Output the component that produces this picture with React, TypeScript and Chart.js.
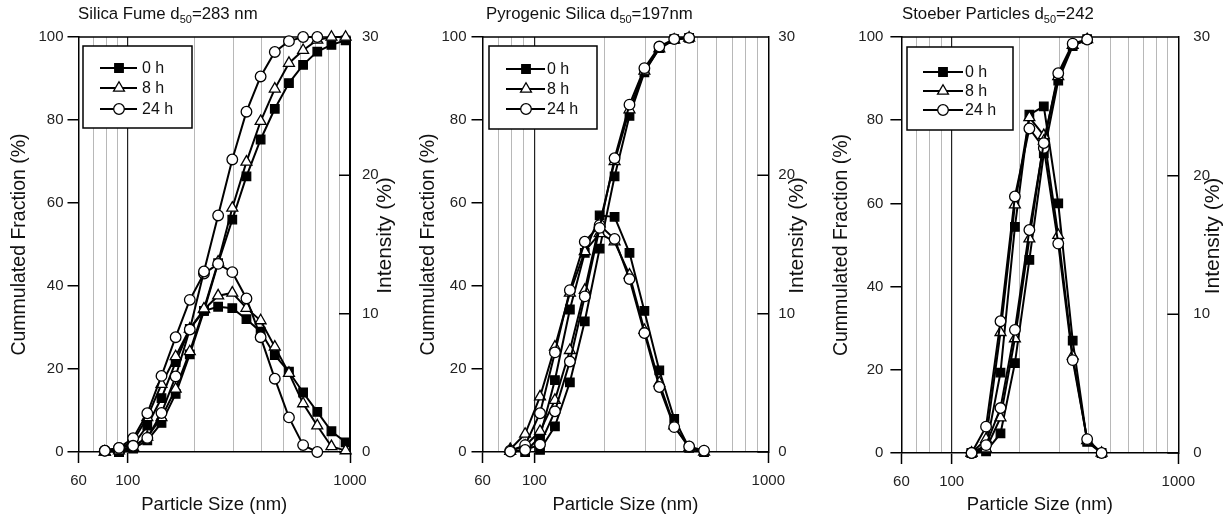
import React, { useEffect, useRef } from "react";
import { Chart, registerables } from "chart.js";

Chart.register(...registerables);

const FONT = "'Liberation Sans', Arial, Helvetica, sans-serif";

// Malvern size classes (nm) shared by all series
const SIZE_BINS = [68.06, 78.82, 91.28, 105.7, 122.4, 141.8, 164.2, 190.1, 220.2, 255.0, 295.3, 342.0, 396.1, 458.7, 531.2, 615.1, 712.4, 825.0, 955.4];

// Silica Fume (left axis: cumulated %, right axis: intensity %)
const FUME_CUM_0H = [null, null, 0, 0.8, 2.8, 7.0, 14.0, 23.5, 34.0, 45.5, 56.0, 66.4, 75.3, 82.7, 88.9, 93.3, 96.5, 98.1, 99.2];
const FUME_INT_0H = [null, null, 0, 0.5, 1.9, 3.9, 6.5, 8.9, 10.2, 10.5, 10.4, 9.6, 8.7, 7.0, 5.8, 4.3, 2.9, 1.5, 0.7];
const FUME_CUM_8H = [null, 0, 0.3, 1.1, 3.6, 8.3, 15.2, 24.2, 34.5, 45.8, 58.8, 69.9, 79.7, 87.5, 93.7, 96.8, 99.3, 100, 100];
const FUME_INT_8H = [null, 0, 0.2, 0.8, 2.5, 4.9, 6.9, 8.9, 10.3, 11.3, 11.5, 10.4, 9.5, 7.6, 5.7, 3.5, 1.9, 0.4, 0.1];
const FUME_CUM_24H = [null, 0.3, 1.0, 1.5, 3.4, 9.4, 18.2, 29.5, 43.5, 57.0, 70.5, 82.0, 90.5, 96.4, 99.0, 100, 100, null, null];
const FUME_INT_24H = [null, 0.1, 0.3, 1.0, 2.8, 5.5, 8.3, 11.0, 12.9, 13.6, 13.0, 11.1, 8.3, 5.3, 2.5, 0.5, 0, null, null];

// Pyrogenic Silica
const PYRO_CUM_0H = [null, null, null, 0.5, 6.2, 16.8, 31.5, 49.0, 66.4, 81.0, 91.5, 97.3, 99.5, 99.8, null, null, null, null, null];
const PYRO_INT_0H = [null, null, 0, 1.1, 5.2, 10.3, 14.4, 17.1, 17.0, 14.4, 10.2, 5.9, 2.4, 0.3, 0, null, null, null, null];
const PYRO_CUM_8H = [null, 0.2, 1.5, 5.0, 12.5, 24.5, 39.0, 55.0, 70.0, 82.5, 91.8, 97.2, 99.3, 99.8, null, null, null, null, null];
const PYRO_INT_8H = [null, 0.2, 1.3, 4.0, 7.6, 11.5, 14.5, 15.8, 15.2, 12.8, 8.8, 5.0, 1.9, 0.3, 0, null, null, null, null];
const PYRO_CUM_24H = [null, 0.1, 0.5, 1.8, 9.8, 21.8, 37.5, 54.0, 70.8, 83.7, 92.5, 97.7, 99.5, 99.8, null, null, null, null, null];
const PYRO_INT_24H = [null, 0.1, 0.5, 2.8, 7.2, 11.7, 15.2, 16.4, 15.4, 12.5, 8.6, 4.7, 1.8, 0.4, 0.1, null, null, null, null];

// Stoeber Particles
const STOE_CUM_0H = [null, null, null, null, 0, 0.4, 4.7, 21.6, 46.4, 72.0, 89.5, 97.8, 99.5, null, null, null, null, null, null];
const STOE_INT_0H = [null, null, null, null, 0, 0.4, 5.8, 16.3, 24.4, 25.0, 18.0, 8.1, 0.8, 0, null, null, null, null, null];
const STOE_CUM_8H = [null, null, null, null, 0, 1.0, 8.5, 27.5, 51.5, 75.0, 90.5, 98.0, 99.4, null, null, null, null, null, null];
const STOE_INT_8H = [null, null, null, null, 0, 1.0, 8.7, 17.9, 24.2, 22.9, 15.7, 7.0, 0.9, 0, null, null, null, null, null];
const STOE_CUM_24H = [null, null, null, null, 0, 1.9, 10.8, 29.6, 53.6, 74.5, 91.3, 98.4, 99.4, null, null, null, null, null, null];
const STOE_INT_24H = [null, null, null, null, 0, 1.9, 9.5, 18.5, 23.4, 22.0, 15.1, 6.7, 1.0, 0, null, null, null, null, null];

const X_TICK_VALUES = [60, 70, 80, 90, 100, 200, 300, 400, 500, 600, 700, 800, 900, 1000];
const X_TICK_LABELS = [60, 100, 1000];
const CUM_TICKS = [0, 20, 40, 60, 80, 100];
const INT_TICKS = [0, 10, 20, 30];
const SERIES_LABELS = ["0 h", "8 h", "24 h"];
const X_TITLE = "Particle Size (nm)";
const Y_LEFT_TITLE = "Cummulated Fraction (%)";
const Y_RIGHT_TITLE = "Intensity (%)";

const MARKERS = [
  { style: "rect", r: 6, bg: "#000" },
  { style: "triangle", r: 6.3, bg: "#fff" },
  { style: "circle", r: 5.3, bg: "#fff" },
];

const PANELS = [
  {
    title: ["Silica Fume d", "50", "=283 nm"],
    cum: [FUME_CUM_0H, FUME_CUM_8H, FUME_CUM_24H],
    int: [FUME_INT_0H, FUME_INT_8H, FUME_INT_24H],
    canvasX: 0, canvasW: 410, plotL: 78.5, plotR: 350, plotT: 37, plotB: 452,
    leftTitleX: 20, rightTitleX: 385, leftPad: 4, rightPad: 12, titleX: 78,
    legend: { x: 83, y: 46, w: 109, h: 82, rows: [68, 88, 109], l1: 100, l2: 137, m: 119, t: 142 },
  },
  {
    title: ["Pyrogenic Silica d", "50", "=197nm"],
    cum: [PYRO_CUM_0H, PYRO_CUM_8H, PYRO_CUM_24H],
    int: [PYRO_INT_0H, PYRO_INT_8H, PYRO_INT_24H],
    canvasX: 410, canvasW: 410, plotL: 482.5, plotR: 768.3, plotT: 37, plotB: 452,
    leftTitleX: 429, rightTitleX: 797, leftPad: 5, rightPad: 10, titleX: 486,
    legend: { x: 489, y: 46, w: 108, h: 83, rows: [69, 89, 109], l1: 506, l2: 545, m: 526, t: 547 },
  },
  {
    title: ["Stoeber Particles d", "50", "=242"],
    cum: [STOE_CUM_0H, STOE_CUM_8H, STOE_CUM_24H],
    int: [STOE_INT_0H, STOE_INT_8H, STOE_INT_24H],
    canvasX: 820, canvasW: 407, plotL: 901.4, plotR: 1178.3, plotT: 37, plotB: 453,
    leftTitleX: 842, rightTitleX: 1213, leftPad: 7, rightPad: 15, titleX: 902,
    legend: { x: 907, y: 47, w: 106, h: 83, rows: [72, 91, 110], l1: 923, l2: 963, m: 943, t: 965 },
  },
];

function toPoints(values) {
  const pts = [];
  values.forEach((v, i) => {
    if (v !== null && v !== undefined) pts.push({ x: SIZE_BINS[i], y: v });
  });
  return pts;
}

function drawMarker(ctx, style, r, bg, x, y) {
  ctx.save();
  ctx.beginPath();
  if (style === "rect") {
    const s = Math.SQRT1_2 * r;
    ctx.rect(x - s, y - s, 2 * s, 2 * s);
  } else if (style === "triangle") {
    ctx.moveTo(x, y - r);
    ctx.lineTo(x + 0.866 * r, y + r / 2);
    ctx.lineTo(x - 0.866 * r, y + r / 2);
    ctx.closePath();
  } else {
    ctx.arc(x, y, r, 0, Math.PI * 2);
  }
  ctx.fillStyle = bg;
  ctx.fill();
  ctx.lineWidth = 1.3;
  ctx.strokeStyle = "#000";
  ctx.stroke();
  ctx.restore();
}

function Panel({ p }) {
  const ref = useRef(null);
  useEffect(() => {
    const cx = p.canvasX;
    const datasets = [];
    [2, 1, 0].forEach((s) => {
      const m = MARKERS[s];
      const common = {
        borderColor: "#000",
        borderWidth: 2,
        pointStyle: m.style,
        pointRadius: m.r,
        pointBackgroundColor: m.bg,
        pointBorderColor: "#000",
        pointBorderWidth: 1.3,
        fill: false,
        tension: 0,
        clip: false,
      };
      datasets.push({ ...common, label: SERIES_LABELS[s] + " cum", data: toPoints(p.cum[s]), yAxisID: "yL" });
      datasets.push({ ...common, label: SERIES_LABELS[s] + " int", data: toPoints(p.int[s]), yAxisID: "yR" });
    });

    const decor = {
      id: "decor",
      beforeDatasetsDraw(chart) {
        const { ctx, chartArea } = chart;
        ctx.save();
        ctx.strokeStyle = "#000";
        ctx.lineWidth = 1.5;
        ctx.beginPath();
        ctx.moveTo(chartArea.left, chartArea.top);
        ctx.lineTo(chartArea.right, chartArea.top);
        const yR = chart.scales.yR;
        INT_TICKS.forEach((v) => {
          const y = yR.getPixelForValue(v);
          ctx.moveTo(chartArea.right - 11, y);
          ctx.lineTo(chartArea.right, y);
        });
        ctx.stroke();
        ctx.restore();
      },
      afterDatasetsDraw(chart) {
        const { ctx, chartArea } = chart;
        const L = p.legend;
        ctx.save();
        // legend
        ctx.fillStyle = "#fff";
        ctx.fillRect(L.x - cx, L.y, L.w, L.h);
        ctx.strokeStyle = "#000";
        ctx.lineWidth = 1.5;
        ctx.strokeRect(L.x - cx, L.y, L.w, L.h);
        SERIES_LABELS.forEach((lab, i) => {
          const y = L.rows[i];
          ctx.beginPath();
          ctx.strokeStyle = "#000";
          ctx.lineWidth = 2;
          ctx.moveTo(L.l1 - cx, y);
          ctx.lineTo(L.l2 - cx, y);
          ctx.stroke();
          drawMarker(ctx, MARKERS[i].style, MARKERS[i].r, MARKERS[i].bg, L.m - cx, y);
          ctx.fillStyle = "#111";
          ctx.font = `16px ${FONT}`;
          ctx.textAlign = "left";
          ctx.textBaseline = "middle";
          ctx.fillText(lab, L.t - cx, y + 1);
        });
        // panel title with subscript
        ctx.fillStyle = "#111";
        ctx.textBaseline = "alphabetic";
        ctx.textAlign = "left";
        let tx = p.titleX - cx;
        const ty = 19;
        ctx.font = `16.8px ${FONT}`;
        ctx.fillText(p.title[0], tx, ty);
        tx += ctx.measureText(p.title[0]).width;
        ctx.font = `11px ${FONT}`;
        ctx.fillText(p.title[1], tx, ty + 4);
        tx += ctx.measureText(p.title[1]).width;
        ctx.font = `16.8px ${FONT}`;
        ctx.fillText(p.title[2], tx, ty);
        // right axis title (reads bottom to top)
        ctx.translate(p.rightTitleX - cx, (chartArea.top + chartArea.bottom) / 2 - 9);
        ctx.rotate(-Math.PI / 2);
        ctx.font = `21px ${FONT}`;
        ctx.textAlign = "center";
        ctx.textBaseline = "middle";
        ctx.fillText(Y_RIGHT_TITLE, 0, 0);
        ctx.restore();
      },
    };

    const leftTitleFont = 19.5;
    const chart = new Chart(ref.current, {
      type: "line",
      data: { datasets },
      plugins: [decor],
      options: {
        responsive: false,
        animation: false,
        events: [],
        layout: { autoPadding: false, padding: { top: p.plotT, left: 0, right: 0, bottom: 0 } },
        plugins: { legend: { display: false }, tooltip: { enabled: false }, title: { display: false } },
        scales: {
          x: {
            type: "logarithmic",
            min: 60,
            max: 1000,
            afterBuildTicks: (s) => {
              s.ticks = X_TICK_VALUES.map((v) => ({ value: v }));
            },
            afterFit: (s) => {
              s.height = 530 - p.plotB;
            },
            ticks: {
              autoSkip: false,
              maxRotation: 0,
              minRotation: 0,
              padding: 9,
              color: "#222",
              font: { family: FONT, size: 15 },
              callback: (v) => (X_TICK_LABELS.includes(Number(v)) ? String(v) : ""),
            },
            grid: {
              drawOnChartArea: true,
              drawTicks: true,
              tickLength: 11,
              tickWidth: 1.5,
              color: (c) => {
                const v = c.tick ? c.tick.value : 0;
                if (v === 100) return "#222";
                if (v === 60 || v === 1000) return "#000";
                return "#b8b8b8";
              },
              lineWidth: (c) => (c.tick && c.tick.value === 100 ? 1.2 : 1),
              tickColor: (c) => (c.tick && X_TICK_LABELS.includes(c.tick.value) ? "#000" : "rgba(0,0,0,0)"),
            },
            border: { display: true, color: "#000", width: 1.5 },
            title: {
              display: true,
              text: X_TITLE,
              color: "#111",
              font: { family: FONT, size: 18.5 },
              padding: { top: 0, bottom: 14 },
            },
          },
          yL: {
            type: "linear",
            position: "left",
            min: 0,
            max: 100,
            afterBuildTicks: (s) => {
              s.ticks = CUM_TICKS.map((v) => ({ value: v }));
            },
            afterFit: (s) => {
              s.width = p.plotL - cx;
            },
            ticks: { padding: p.leftPad, color: "#222", font: { family: FONT, size: 15 } },
            grid: { drawOnChartArea: false, drawTicks: true, tickLength: 11, color: "#000", lineWidth: 1.5 },
            border: { display: true, color: "#000", width: 1.5 },
            title: {
              display: true,
              text: Y_LEFT_TITLE,
              color: "#111",
              font: { family: FONT, size: leftTitleFont },
              padding: { top: p.leftTitleX - cx - (leftTitleFont * 1.2) / 2, bottom: 0 },
            },
          },
          yR: {
            type: "linear",
            position: "right",
            min: 0,
            max: 30,
            afterBuildTicks: (s) => {
              s.ticks = INT_TICKS.map((v) => ({ value: v }));
            },
            afterFit: (s) => {
              s.width = p.canvasW - (p.plotR - cx);
            },
            ticks: { padding: p.rightPad, color: "#222", font: { family: FONT, size: 15 } },
            grid: { drawOnChartArea: false, drawTicks: false },
            border: { display: true, color: "#000", width: 1.5 },
            title: { display: false },
          },
        },
      },
    });
    return () => chart.destroy();
  }, [p]);

  return (
    <div style={{ position: "absolute", left: p.canvasX, top: 0, width: p.canvasW, height: 530 }}>
      <canvas ref={ref} width={p.canvasW} height={530} style={{ display: "block" }} />
    </div>
  );
}

export default function App() {
  return (
    <div style={{ position: "absolute", left: 0, top: 0, width: 1227, height: 530, background: "#fff", overflow: "hidden" }}>
      {PANELS.map((p, i) => (
        <Panel key={i} p={p} />
      ))}
    </div>
  );
}
